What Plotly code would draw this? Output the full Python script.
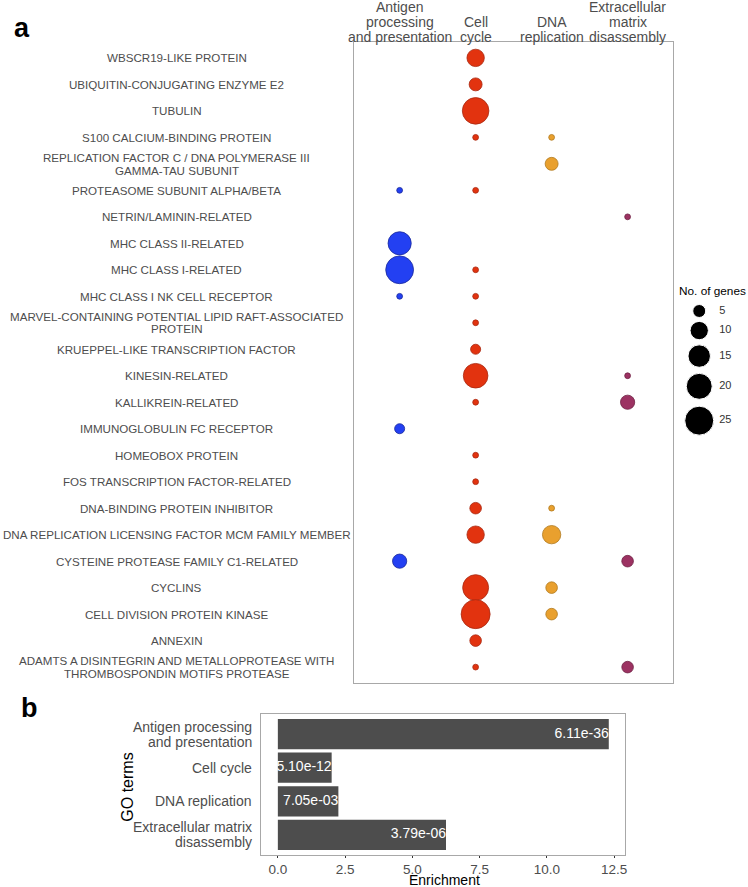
import numpy as np
import plotly.graph_objects as go

# ---------------- data ----------------
proteins = [
    "WBSCR19-LIKE PROTEIN",
    "UBIQUITIN-CONJUGATING ENZYME E2",
    "TUBULIN",
    "S100 CALCIUM-BINDING PROTEIN",
    "REPLICATION FACTOR C / DNA POLYMERASE III<br>GAMMA-TAU SUBUNIT",
    "PROTEASOME SUBUNIT ALPHA/BETA",
    "NETRIN/LAMININ-RELATED",
    "MHC CLASS II-RELATED",
    "MHC CLASS I-RELATED",
    "MHC CLASS I NK CELL RECEPTOR",
    "MARVEL-CONTAINING POTENTIAL LIPID RAFT-ASSOCIATED<br>PROTEIN",
    "KRUEPPEL-LIKE TRANSCRIPTION FACTOR",
    "KINESIN-RELATED",
    "KALLIKREIN-RELATED",
    "IMMUNOGLOBULIN FC RECEPTOR",
    "HOMEOBOX PROTEIN",
    "FOS TRANSCRIPTION FACTOR-RELATED",
    "DNA-BINDING PROTEIN INHIBITOR",
    "DNA REPLICATION LICENSING FACTOR MCM FAMILY MEMBER",
    "CYSTEINE PROTEASE FAMILY C1-RELATED",
    "CYCLINS",
    "CELL DIVISION PROTEIN KINASE",
    "ANNEXIN",
    "ADAMTS A DISINTEGRIN AND METALLOPROTEASE WITH<br>THROMBOSPONDIN MOTIFS PROTEASE",
]

go_terms = ["Antigen processing and presentation", "Cell cycle",
            "DNA replication", "Extracellular matrix disassembly"]
go_term_header_labels = ["Antigen<br>processing<br>and presentation", "Cell<br>cycle",
                         "DNA<br>replication", "Extracellular<br>matrix<br>disassembly"]
go_term_bar_labels = ["Antigen processing<br>and presentation", "Cell cycle",
                      "DNA replication", "Extracellular matrix<br>disassembly"]

N = None
genes_antigen = [N, N, N, N, N, 1, N, 16, 23, 1, N, N, N, N, 3, N, N, N, N, 6, N, N, N, N]
genes_cell_cycle = [9, 5, 21, 1, N, 1, N, N, 1, 1, 1, 3, 18, 1, N, 1, 1, 4, 9, N, 20, 25, 4, 1]
genes_dna_rep = [N, N, N, 1, 5, N, N, N, N, N, N, N, N, N, N, N, N, 1, 10, N, 4, 4, N, N]
genes_ecm = [N, N, N, N, N, N, 1, N, N, N, N, N, 1, 6, N, N, N, N, N, 4, N, N, N, 4]
genes_by_term = [genes_antigen, genes_cell_cycle, genes_dna_rep, genes_ecm]

term_colors = ["#2340F2", "#E2330F", "#E9A02E", "#9C3262"]
term_edge_colors = ["#1A2A9A", "#A82A12", "#B07A20", "#6E2244"]

enrichment = [12.3, 2.0, 2.25, 6.25]
pvalues = ["6.11e-36", "5.10e-12", "7.05e-03", "3.79e-06"]

legend_genes = [5, 10, 15, 20, 25]

# ---------------- layout helpers ----------------
W, H = 748, 887
def fx(px):
    return px / W
def fy(px):
    return 1 - px / H

DIAM_K = 5.8  # px of diameter per sqrt(gene)
def diam(v):
    return DIAM_K * np.sqrt(v)

FONT = "Liberation Sans, Arial, sans-serif"
GREY_TXT = "#4D4D4D"
BOX = "#A8A8A8"

fig = go.Figure()

# ---------------- panel a: dot plot ----------------
for term, vals, col, ecol in zip(go_terms, genes_by_term, term_colors, term_edge_colors):
    ys = [p for p, v in zip(proteins, vals) if v]
    vs = [v for v in vals if v]
    fig.add_trace(go.Scatter(
        x=[term] * len(ys), y=ys, mode="markers",
        marker=dict(size=[diam(v) for v in vs], sizemode="diameter", color=col,
                    line=dict(color=ecol, width=0.8), opacity=1),
        xaxis="x", yaxis="y", showlegend=False, hoverinfo="skip"))

# ---------------- panel b: bar chart ----------------
fig.add_trace(go.Bar(
    x=enrichment, y=go_terms, orientation="h", width=0.9,
    marker=dict(color="#4D4D4D", line=dict(width=0)),
    xaxis="x2", yaxis="y2", showlegend=False, hoverinfo="skip"))
fig.add_trace(go.Scatter(
    x=enrichment, y=go_terms, mode="text", text=pvalues, textposition="middle left",
    textfont=dict(family=FONT, size=14, color="white"),
    xaxis="x2", yaxis="y2", showlegend=False, hoverinfo="skip"))

# ---------------- size legend (drawn on its own axes) ----------------
key_h = np.sqrt(legend_genes)
key_centers = np.cumsum(key_h) - key_h / 2
fig.add_trace(go.Scatter(
    x=[0.3] * len(legend_genes), y=key_centers, mode="markers",
    marker=dict(size=[diam(v) for v in legend_genes], sizemode="diameter",
                color="black", opacity=1),
    xaxis="x3", yaxis="y3", showlegend=False, hoverinfo="skip"))
fig.add_trace(go.Scatter(
    x=[0.6] * len(legend_genes), y=key_centers, mode="text",
    text=[str(v) for v in legend_genes], textposition="middle right",
    textfont=dict(family=FONT, size=11, color="#333333"),
    xaxis="x3", yaxis="y3", showlegend=False, hoverinfo="skip"))

leg_px_per_unit = DIAM_K * 1.25
leg_top = 311 - key_centers[0] * leg_px_per_unit
leg_range = 20
leg_bot = leg_top + leg_range * leg_px_per_unit

n_rows = len(proteins)
n_terms = len(go_terms)
emax = max(enrichment)

axis_box = dict(showline=True, mirror=True, linecolor=BOX, linewidth=1.2,
                showgrid=False, zeroline=False)

fig.update_layout(
    width=W, height=H, autosize=False,
    margin=dict(l=0, r=0, t=0, b=0),
    paper_bgcolor="white", plot_bgcolor="white",
    font=dict(family=FONT, color=GREY_TXT),
    xaxis=dict(domain=[fx(355), fx(675)], type="category", categoryarray=go_terms,
               range=[-0.6, n_terms - 0.4], showticklabels=False, ticks="",
               anchor="y", **axis_box),
    yaxis=dict(domain=[fy(683), fy(42)], type="category", categoryarray=proteins,
               range=[n_rows - 0.4, -0.6], showticklabels=False, ticks="",
               anchor="x", **axis_box),
    xaxis2=dict(domain=[fx(262), fx(627)], range=[-0.05 * emax, 1.05 * emax],
                tickvals=[0, 2.5, 5, 7.5, 10, 12.5], tickformat=".1f",
                ticks="outside", ticklen=2, tickcolor="#333333",
                tickfont=dict(size=13.5, color=GREY_TXT), anchor="y2",
                **axis_box),
    yaxis2=dict(domain=[fy(855), fy(714)], type="category", categoryarray=go_terms,
                range=[n_terms - 0.4, -0.6], showticklabels=False, ticks="",
                anchor="x2", **axis_box),
    xaxis3=dict(domain=[fx(681), fx(748)], range=[0, 1], visible=False, anchor="y3"),
    yaxis3=dict(domain=[fy(leg_bot), fy(leg_top)], range=[leg_range, 0], visible=False,
                anchor="x3"),
)

ann = []

def multiline(text, pitch):
    lines = text.split("<br>")
    n = len(lines)
    return [(ln, ((n - 1) / 2 - i) * pitch) for i, ln in enumerate(lines)]

# row labels panel a
for p in proteins:
    for ln, ys in multiline(p, 12.4):
        ann.append(dict(x=fx(177), xref="paper", y=p, yref="y", yshift=ys, text=ln,
                        showarrow=False, xanchor="center", yanchor="middle",
                        font=dict(size=11.6, color=GREY_TXT, family=FONT)))
# column headers panel a (bottom-aligned lines)
for t, lab in zip(go_terms, go_term_header_labels):
    lines = lab.split("<br>")
    for i, ln in enumerate(reversed(lines)):
        ann.append(dict(x=t, xref="x", y=fy(36.7), yref="paper", yshift=15 * i, text=ln,
                        showarrow=False, xanchor="center", yanchor="middle",
                        font=dict(size=14, color=GREY_TXT, family=FONT)))
# category labels panel b
for t, lab in zip(go_terms, go_term_bar_labels):
    for ln, ys in multiline(lab, 15):
        ann.append(dict(x=fx(255), xref="paper", y=t, yref="y2", yshift=ys, text=ln,
                        showarrow=False, xanchor="right", yanchor="middle", align="center",
                        font=dict(size=14, color=GREY_TXT, family=FONT)))
# axis titles
ann.append(dict(x=fx(127), xref="paper", y=fy(787), yref="paper", text="GO terms",
                textangle=-90, showarrow=False, xanchor="center", yanchor="middle",
                font=dict(size=16, color="black", family=FONT)))
ann.append(dict(x=fx(446), xref="paper", y=fy(879.5), yref="paper", text="Enrichment",
                showarrow=False, xanchor="center", yanchor="middle",
                font=dict(size=14, color="black", family=FONT)))
# legend title
ann.append(dict(x=fx(679), xref="paper", y=fy(291), yref="paper", text="No. of genes",
                showarrow=False, xanchor="left", yanchor="middle",
                font=dict(size=11.8, color="black", family=FONT)))
# panel letters
ann.append(dict(x=fx(12), xref="paper", y=fy(28), yref="paper", text="<b>a</b>",
                showarrow=False, xanchor="left", yanchor="middle",
                font=dict(size=27, color="black", family=FONT)))
ann.append(dict(x=fx(19), xref="paper", y=fy(708), yref="paper", text="<b>b</b>",
                showarrow=False, xanchor="left", yanchor="middle",
                font=dict(size=27, color="black", family=FONT)))

fig.update_layout(annotations=ann)

fig.write_html("out.html", config={"displayModeBar": False},
               post_script="document.body.style.margin='0px';document.body.style.overflow='hidden';")
